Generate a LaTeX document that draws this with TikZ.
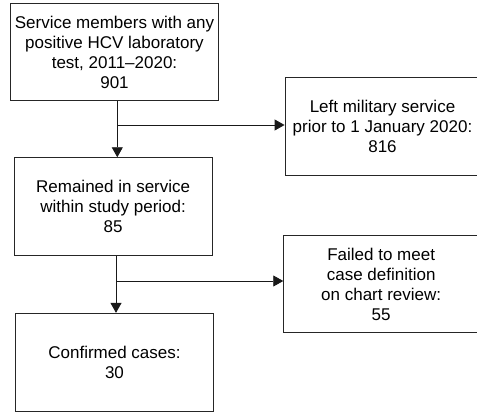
\documentclass[tikz,border=0pt]{standalone}
\usepackage{fontspec}
\setmainfont{Liberation Sans}
\usetikzlibrary{arrows.meta}
\begin{document}
\begin{tikzpicture}[x=1pt,y=-1pt,
  flowbox/.style={draw=black!85, line width=0.9pt, align=center, inner sep=0pt,
    font=\fontsize{17}{20}\selectfont, anchor=center},
  flowarrow/.style={draw=black!90, line width=0.9pt, -{Triangle[length=10pt,width=11pt]}},
  flowline/.style={draw=black!90, line width=0.9pt}]
\useasboundingbox (0,0) rectangle (477,412);
\node[flowbox, minimum width=207.6pt, minimum height=97.4pt] (b1) at (114.5,52)
  {Service members with any\\positive HCV laboratory\\test, 2011–2020:\\901};
\node[flowbox, minimum width=203pt, minimum height=97.3pt] (b2) at (386.5,126.35)
  {\hspace*{-8pt}Left military service\\\hspace*{-8pt}prior to 1 January 2020:\\\hspace*{-8pt}816};
\node[flowbox, minimum width=197.7pt, minimum height=97.6pt] (b3) at (113.15,206.5)
  {Remained in service\\within study period:\\85};
\node[flowbox, minimum width=203pt, minimum height=97pt] (b4) at (385.2,284.2)
  {\hspace*{-8pt}Failed to meet\\\hspace*{-8pt}case definition\\\hspace*{-8pt}on chart review:\\\hspace*{-8pt}55};
\node[flowbox, minimum width=197.6pt, minimum height=98.4pt] (b5) at (114.5,362.5)
  {Confirmed cases:\\30};
\coordinate (j1) at (117.3,125);
\coordinate (j2) at (116,281);
\draw[flowarrow] (j1 |- b1.south) -- (j1 |- b3.north);
\draw[flowarrow] (j1) -- (j1 -| b2.west);
\draw[flowarrow] (j2 |- b3.south) -- (j2 |- b5.north);
\draw[flowarrow] (j2) -- (j2 -| b4.west);
\end{tikzpicture}
\end{document}
